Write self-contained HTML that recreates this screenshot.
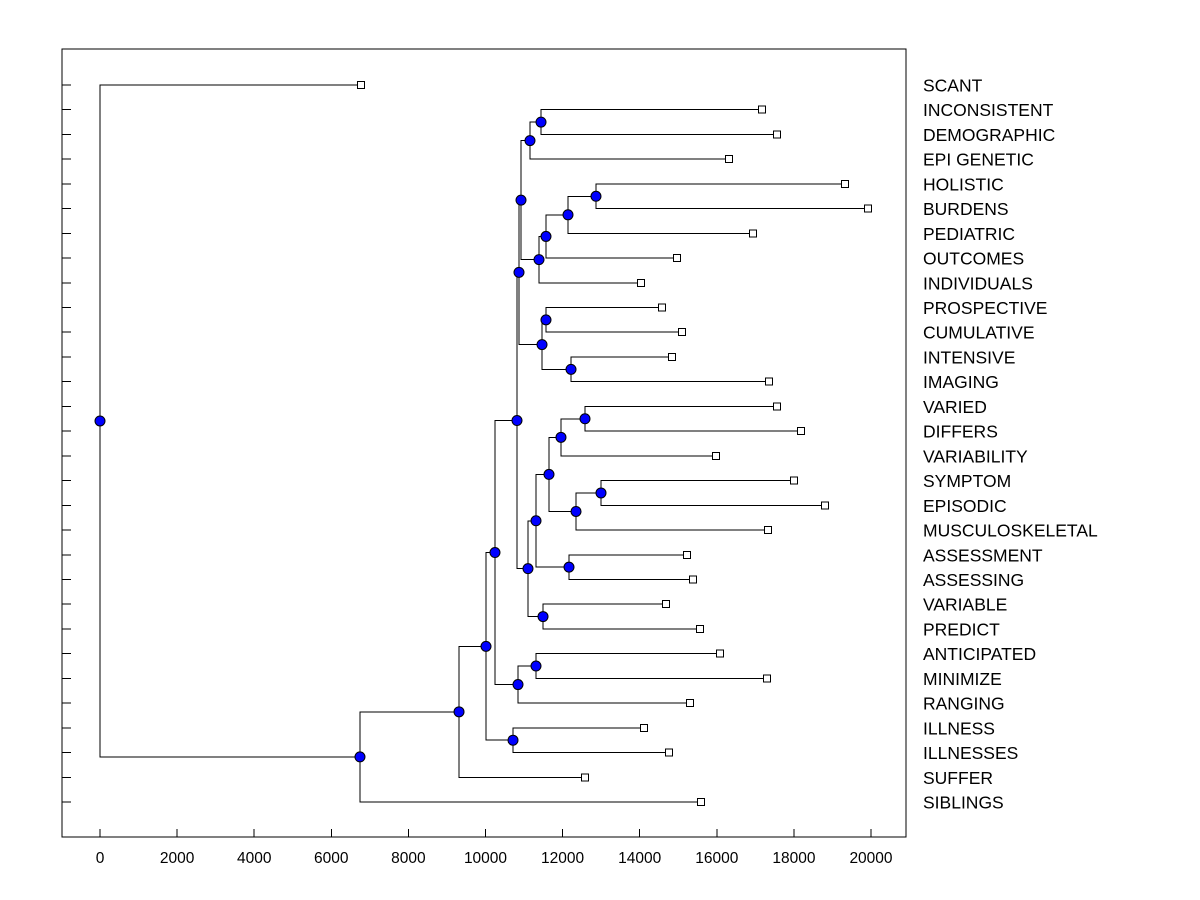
<!DOCTYPE html>
<html><head><meta charset="utf-8"><style>
body{margin:0;background:#fff}
svg{display:block}
text{font-family:"Liberation Sans",Arial,sans-serif;fill:#000}
</style></head><body>
<svg id="chart" width="1200" height="900" viewBox="0 0 1200 900" xmlns="http://www.w3.org/2000/svg">
<rect x="0" y="0" width="1200" height="900" fill="#fff"/>
<rect x="62" y="49" width="844" height="788" fill="none" stroke="#000" stroke-width="1" shape-rendering="crispEdges"/>
<g id="g"></g>
</svg>
<script>
const leafNames = ["SCANT","INCONSISTENT","DEMOGRAPHIC","EPI GENETIC","HOLISTIC","BURDENS","PEDIATRIC","OUTCOMES","INDIVIDUALS","PROSPECTIVE","CUMULATIVE","INTENSIVE","IMAGING","VARIED","DIFFERS","VARIABILITY","SYMPTOM","EPISODIC","MUSCULOSKELETAL","ASSESSMENT","ASSESSING","VARIABLE","PREDICT","ANTICIPATED","MINIMIZE","RANGING","ILLNESS","ILLNESSES","SUFFER","SIBLINGS"];
const leafValues = [6770,17173,17562,16316,19326,19922,16939,14968,14034,14578,15097,14838,17354,17562,18184,15979,18003,18807,17328,15227,15383,14682,15564,16083,17302,15305,14112,14760,12581,15590];
const mergeLeft = [1,30,4,32,33,34,31,9,11,37,36,13,41,16,43,42,19,45,21,47,40,23,51,50,26,53,55,56,0];
const mergeRight = [2,3,5,6,7,8,35,10,12,38,39,14,15,17,18,44,20,46,22,48,49,24,25,52,27,54,28,29,57];
const mergeHeights = [11440,11154,12866,12140,11569,11388,10921,11569,12218,11466,10869,12581,11958,12996,12348,11647,12166,11310,11492,11102,10817,11310,10843,10246,10713,10013,9313,6744,0];
const xTicks = [0,2000,4000,6000,8000,10000,12000,14000,16000,18000,20000];

const NS="http://www.w3.org/2000/svg";
const g=document.getElementById('g');
const xs=v=>100+v*(771/20000);
const ys=i=>85+i*(717/29);
function mk(t,a){const e=document.createElementNS(NS,t);for(const k in a)e.setAttribute(k,a[k]);g.appendChild(e);return e;}

xTicks.forEach(t=>{
  const l=mk('line',{x1:xs(t),x2:xs(t),y1:837,y2:829,stroke:'#000','shape-rendering':'crispEdges'});
  
  
  const tx=mk('text',{x:xs(t),y:863,'text-anchor':'middle','font-size':'15.5'});
  tx.textContent=t;
  
  
});
leafNames.forEach((n,i)=>{
  const l=mk('line',{x1:62,x2:71,y1:ys(i),y2:ys(i),stroke:'#000','shape-rendering':'crispEdges'});
  
  
  const tx=mk('text',{x:923,y:ys(i)+6.5,'font-size':'17.5'});
  tx.textContent=n;
  
  
});

const nx=[],ny=[];
leafValues.forEach((v,i)=>{nx.push(xs(v));ny.push(ys(i));});
mergeHeights.forEach((h,k)=>{
  const a=mergeLeft[k],b=mergeRight[k];
  nx.push(xs(h));ny.push((ny[a]+ny[b])/2);
});
const dots=[];
mergeHeights.forEach((h,k)=>{
  const a=mergeLeft[k],b=mergeRight[k],id=leafValues.length+k,x=nx[id];
  const p=mk('path',{d:`M${nx[a]},${ny[a]}H${x}V${ny[b]}H${nx[b]}`,fill:'none',stroke:'#000','stroke-width':1,'shape-rendering':'crispEdges'});
  
  
  dots.push(id);
});
leafValues.forEach((v,i)=>{
  const r=mk('rect',{x:nx[i]-3.5,y:ny[i]-3.5,width:7,height:7,fill:'#fff',stroke:'#000','shape-rendering':'crispEdges'});
  
  
});
dots.forEach(id=>{
  const c=mk('circle',{cx:nx[id],cy:ny[id],r:5,fill:'#0000ff',stroke:'#000','stroke-width':1});
  
  
});
</script>
</body></html>
